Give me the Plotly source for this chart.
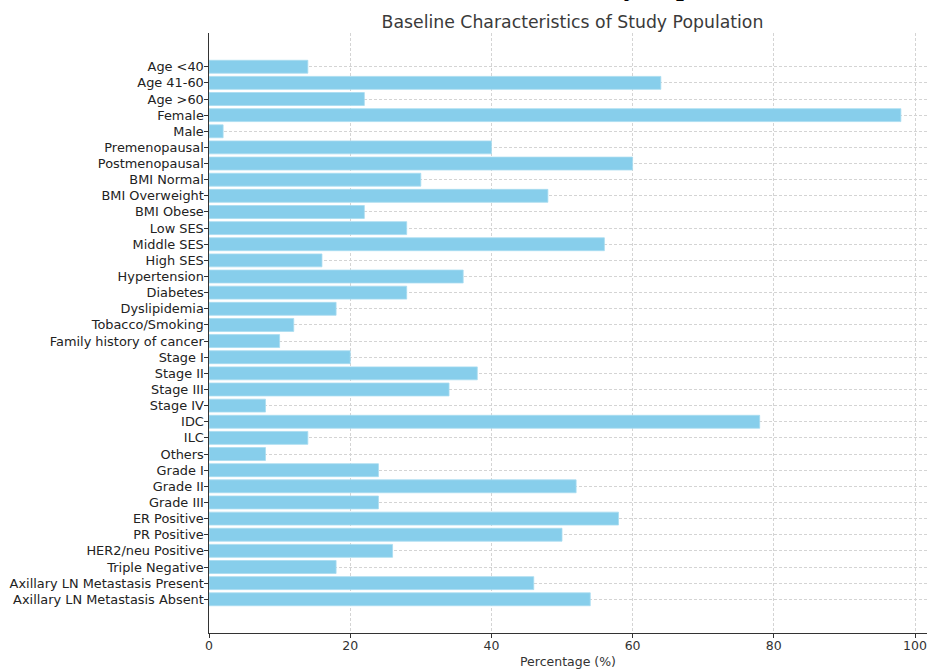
import plotly.graph_objects as go

categories = ["Age <40", "Age 41-60", "Age >60", "Female", "Male", "Premenopausal",
              "Postmenopausal", "BMI Normal", "BMI Overweight", "BMI Obese", "Low SES",
              "Middle SES", "High SES", "Hypertension", "Diabetes", "Dyslipidemia",
              "Tobacco/Smoking", "Family history of cancer", "Stage I", "Stage II",
              "Stage III", "Stage IV", "IDC", "ILC", "Others", "Grade I", "Grade II",
              "Grade III", "ER Positive", "PR Positive", "HER2/neu Positive",
              "Triple Negative", "Axillary LN Metastasis Present",
              "Axillary LN Metastasis Absent"]
percentages = [14, 64, 22, 98, 2, 40, 60, 30, 48, 22, 28, 56, 16, 36, 28, 18, 12, 10,
               20, 38, 34, 8, 78, 14, 8, 24, 52, 24, 58, 50, 26, 18, 46, 54]
x_ticks = [0, 20, 40, 60, 80, 100]

title_text = "Baseline Characteristics of Study Population"
x_title = "Percentage (%)"

fig = go.Figure(go.Bar(
    x=percentages, y=categories, orientation="h",
    marker=dict(color="#87CEEB", line=dict(color="#a8dcf0", width=0.8)),
    width=0.8,
))

font_family = "DejaVu Sans, Verdana, sans-serif"
n = len(categories)
fig.update_layout(
    width=927, height=669,
    margin=dict(l=209, r=0, t=33, b=36, autoexpand=False),
    plot_bgcolor="white", paper_bgcolor="white",
    font=dict(family=font_family, color="#333333", size=12),
    title=dict(text=title_text, x=572.5 / 927, xanchor="center", y=1 - 22 / 669,
               yanchor="middle", font=dict(size=17.3, color="#3a3a3a", family=font_family)),
    bargap=0.2,
    showlegend=False,
)
grid_kw = dict(showgrid=True, gridcolor="#d4d4d4", griddash="3px,2px", gridwidth=0.7)
fig.update_xaxes(
    range=[0, 101.7], tickvals=x_ticks, ticktext=[str(v) for v in x_ticks],
    showline=True, linecolor="#333333", linewidth=1.2, mirror=False,
    ticks="outside", ticklen=3.5, tickcolor="#333333", tickwidth=1,
    tickfont=dict(size=12.5, color="#333333"), ticklabeloverflow="allow",
    ticklabelstandoff=-3,
    title=dict(text=x_title, font=dict(size=12.5, color="#333333"), standoff=5),
    zeroline=False, layer="above traces", automargin=False, **grid_kw,
)
fig.update_yaxes(
    type="category", range=[n - 1 + 2.09, -2.09],
    showline=True, linecolor="#333333", linewidth=1.2,
    ticks="outside", ticklen=3.5, tickcolor="#333333", tickwidth=1,
    tickfont=dict(size=12.9, color="#222222"), ticklabelstandoff=-2,
    zeroline=False, layer="above traces", automargin=False, **grid_kw,
)

# cropped heading at the very top of the image (only descenders visible)
fig.add_annotation(
    text="<b>Baseline Characteristics of Study Population</b>",
    xref="paper", yref="paper", x=(778 - 209) / 718, xanchor="right",
    y=1 + (33 - 3) / 600, yanchor="bottom", showarrow=False,
    font=dict(family="Liberation Serif, Times New Roman, serif", size=28, color="#000000"),
)

fig.write_html("out.html", config={"displayModeBar": False},
               post_script="document.body.style.margin='0';")
